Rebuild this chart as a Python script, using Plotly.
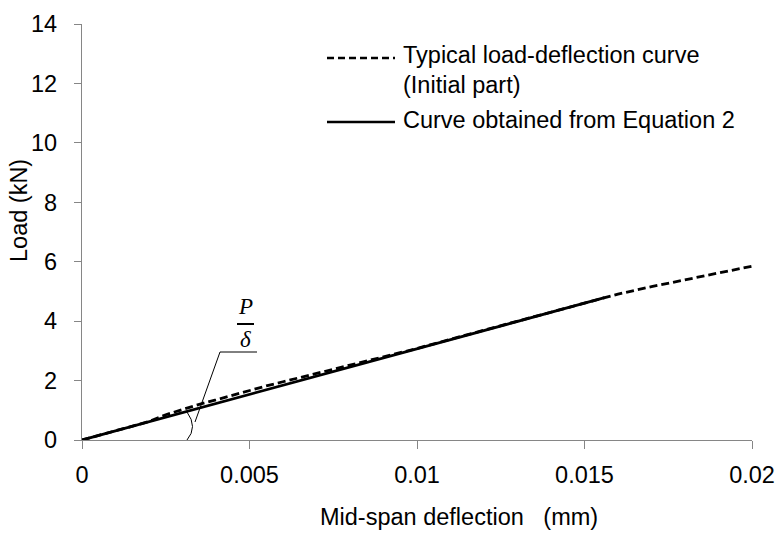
import plotly.graph_objects as go

# Measured load-deflection response (initial part)
deflection_test = [0, 0.001, 0.002, 0.0025, 0.003, 0.0035, 0.004, 0.0045, 0.005,
                   0.0055, 0.006, 0.0065, 0.007, 0.0075, 0.008, 0.009, 0.010,
                   0.011, 0.012, 0.013, 0.014, 0.015, 0.0155, 0.016, 0.017,
                   0.018, 0.019, 0.020]
load_test = [0, 0.31, 0.62, 0.85, 1.03, 1.20, 1.35, 1.51, 1.67, 1.82, 1.96,
             2.10, 2.24, 2.37, 2.50, 2.79, 3.08, 3.39, 3.69, 3.99, 4.30, 4.61,
             4.76, 4.91, 5.16, 5.39, 5.62, 5.85]

# Linear curve from Equation 2
deflection_eq = [0, 0.0156]
load_eq = [0, 4.79]

x_ticks = [0, 0.005, 0.01, 0.015, 0.02]
x_tick_labels = ["0", "0.005", "0.01", "0.015", "0.02"]
y_ticks = [0, 2, 4, 6, 8, 10, 12, 14]

legend_lines = ["Typical load-deflection curve", "(Initial part)",
                "Curve obtained from Equation 2"]
x_title = "Mid-span deflection\u00a0\u00a0\u00a0(mm)"
y_title = "Load (kN)"

W, H = 776, 534
ML, MR, MT, MB = 82, 24, 24, 94
FONT = "Arial, Liberation Sans, sans-serif"
SERIF = "Times New Roman, Liberation Serif, serif"
FS = 23.5


def px(xp):
    return (xp - ML) / (W - ML - MR)


def py(yp):
    return 1 - (yp - MT) / (H - MT - MB)


def text_at(x, y, text, size=FS, family=FONT, angle=0, xanchor="center"):
    return dict(xref="paper", yref="paper", x=px(x), y=py(y), text=text,
                showarrow=False, xanchor=xanchor, yanchor="middle",
                textangle=angle, font=dict(family=family, size=size, color="black"))


fig = go.Figure()
fig.add_trace(go.Scatter(x=deflection_eq, y=load_eq, mode="lines",
                         line=dict(color="black", width=2.8),
                         showlegend=False, hoverinfo="skip"))
fig.add_trace(go.Scatter(x=deflection_test, y=load_test, mode="lines",
                         line=dict(color="black", width=2.8, dash="8px,4px"),
                         showlegend=False, hoverinfo="skip"))

shapes = []
annotations = []

# Legend drawn by hand: sample lines and label rows
shapes.append(dict(type="line", xref="paper", yref="paper",
                   x0=px(327), x1=px(395), y0=py(58), y1=py(58),
                   line=dict(color="black", width=2.6, dash="7px,4px")))
shapes.append(dict(type="line", xref="paper", yref="paper",
                   x0=px(327), x1=px(395), y0=py(122), y1=py(122),
                   line=dict(color="black", width=2.6)))
for yc, label in zip([55, 85, 120], legend_lines):
    annotations.append(text_at(401, yc, label, xanchor="left"))

# Axis titles
annotations.append(text_at(459, 517, x_title))
annotations.append(text_at(19, 211, y_title, angle=-90))

# Slope marker P/δ with leader line and angle arc
annotations.append(text_at(245, 306, "<i>P</i>", size=23, family=SERIF))
annotations.append(text_at(245, 339, "<i>δ</i>", size=23, family=SERIF))
shapes.append(dict(type="line", xref="paper", yref="paper",
                   x0=px(237), x1=px(254), y0=py(324), y1=py(324),
                   line=dict(color="black", width=2)))
shapes.append(dict(type="path", xref="paper", yref="paper",
                   path=f"M {px(257)},{py(352)} L {px(220)},{py(352)} L {px(195)},{py(422)}",
                   line=dict(color="black", width=1)))
shapes.append(dict(type="path", xref="paper", yref="paper",
                   path=f"M {px(187)},{py(412)} Q {px(198)},{py(427)} {px(187)},{py(440)}",
                   line=dict(color="black", width=1)))

axis_style = dict(showgrid=False, zeroline=False, showline=True,
                  linecolor="#868686", linewidth=1.3, ticks="outside",
                  tickcolor="#868686", tickwidth=1.3, automargin=False,
                  tickfont=dict(family=FONT, size=FS, color="black"))

fig.update_layout(
    width=W, height=H,
    margin=dict(l=ML, r=MR, t=MT, b=MB, autoexpand=False),
    paper_bgcolor="white", plot_bgcolor="white",
    font=dict(family=FONT, size=FS, color="black"),
    shapes=shapes, annotations=annotations,
    xaxis=dict(range=[0, 0.02], tickvals=x_ticks, ticktext=x_tick_labels,
               ticklen=8, ticklabelstandoff=6, **axis_style),
    yaxis=dict(range=[0, 14], tickvals=y_ticks, ticklen=7,
               ticklabelstandoff=12, **axis_style),
)

fig.write_html("out.html")
